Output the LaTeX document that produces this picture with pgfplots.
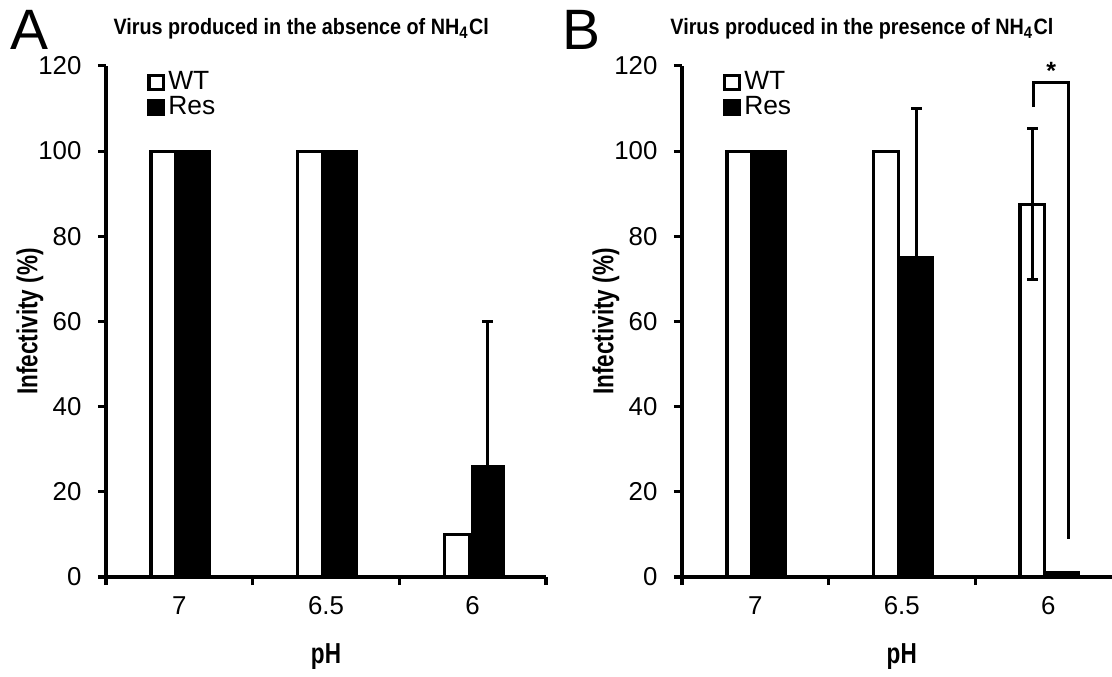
\documentclass[border=0pt]{standalone}
\usepackage{fontspec}
\setmainfont{Liberation Sans}
\newfontfamily\labfont[FakeStretch=0.78]{Liberation Sans}
\newfontfamily\titfont[FakeStretch=0.89]{Liberation Sans}
\usepackage{pgfplots}
\pgfplotsset{compat=1.18}

% 1 px of the reference = 0.36pt
\pgfplotsset{
  panel/.style={
    scale only axis, height=184pt,
    clip=false,
    axis x line=bottom, axis y line=left,
    axis line style={-, line width=1.1pt, black},
    xmin=-0.5, ymin=0, ymax=120,
    ytick={0,20,...,120},
    xtick={-0.5,0.5,1.5,2.5}, xticklabels={},
    extra x ticks={0,1,2}, extra x tick labels={7,6.5,6},
    extra x tick style={major tick length=0pt},
    tick align=outside, major tick length=2.9pt,
    tick style={line width=1.1pt, black},
    /pgf/number format/assume math mode=true,
    ticklabel style={font=\fontsize{9.3}{10.5}\selectfont},
    yticklabel style={xshift=-2.4pt, inner ysep=1pt},
    xticklabel style={yshift=-3.4pt},
    ylabel={Infectivity (\%)},
    xlabel={pH},
    ylabel style={at={(axis description cs:0,0.5)}, yshift=27.4pt, anchor=center,
      font=\labfont\bfseries\fontsize{10.4}{12}\selectfont},
    legend style={draw=none, fill=none, anchor=north west, inner sep=0pt,
      row sep=-1.5pt, font=\fontsize{9.5}{11}\selectfont,
      nodes={inner sep=1.2pt}},
    legend cell align=left,
  },
  barleg/.style={legend image code/.code={\draw[##1] (0pt,-2.6pt) rectangle (5.2pt,2.6pt);}},
  wt/.style={ybar, bar width=0.17, bar shift=-0.108, draw=black, fill=white, line width=1.1pt, barleg},
  res/.style={ybar, bar width=0.21, bar shift=0.102, draw=black, fill=black, line width=1.1pt, barleg},
  ebar/.style={forget plot, black, line width=1.1pt,
    error bars/.cd, y explicit, y dir=#1,
    error bar style={line width=1.1pt, black},
    error mark options={rotate=90, line width=1.1pt, mark size=1.9pt, black}},
}

\begin{document}
\begin{tikzpicture}
% ---- panel A
\begin{axis}[panel, width=158.4pt, xmax=2.5,
  xlabel style={at={(axis description cs:0.5,0)}, yshift=-28.5pt, anchor=center,
      font=\labfont\bfseries\fontsize{10.4}{12}\selectfont},
  legend style={at={(rel axis cs:0.093,0.997)}}]
\addplot[wt] coordinates {(0,100) (1,100) (2,10)};
\addplot[res] coordinates {(0,100) (1,100) (2,26)};
\addplot[ebar=plus] coordinates {(2.102,26) +- (0,34)};
\legend{WT, Res}
\end{axis}

% ---- panel B
\begin{axis}[panel, at={(207.36pt,0pt)}, width=154.8pt, xmax=2.435,
  xlabel style={at={(axis description cs:0.511,0)}, yshift=-28.5pt, anchor=center,
      font=\labfont\bfseries\fontsize{10.4}{12}\selectfont},
  legend style={at={(rel axis cs:0.095,0.997)}}]
\addplot[wt] coordinates {(0,100) (1,100) (2,87.5)};
\addplot[res] coordinates {(0,100) (1,75) (2,1)};
\addplot[ebar=plus] coordinates {(1.102,75) +- (0,35)};
\addplot[ebar=both] coordinates {(1.892,87.5) +- (0,17.7)};
\addplot[forget plot, black, line width=1.1pt] coordinates {(1.9,110.3) (1.9,116) (2.135,116) (2.135,9)};
\node[anchor=south, inner sep=0pt, font=\bfseries\fontsize{9}{10}\selectfont] at (axis cs:2.02,116.6) {*};
\legend{WT, Res}
\end{axis}

% ---- panel letters and titles
\node[anchor=base west, inner sep=0pt, text depth=0pt, font=\fontsize{20.5}{24}\selectfont] at (-34.56pt,189.8pt) {A};
\node[anchor=base west, inner sep=0pt, text depth=0pt, font=\fontsize{20.5}{24}\selectfont] at (164.2pt,189.8pt) {B};
\node[anchor=base west, inner sep=0pt, font=\titfont\bfseries\fontsize{8}{9.5}\selectfont] at (2.52pt,195.3pt)
  {Virus produced in the absence of NH\textsubscript{4}Cl};
\node[anchor=base west, inner sep=0pt, font=\titfont\bfseries\fontsize{8}{9.5}\selectfont] at (203.0pt,195.3pt)
  {Virus produced in the presence of NH\textsubscript{4}Cl};

\pgfresetboundingbox
\path (-38.16pt,-35.64pt) rectangle (362.16pt,207.72pt);
\end{tikzpicture}
\end{document}
